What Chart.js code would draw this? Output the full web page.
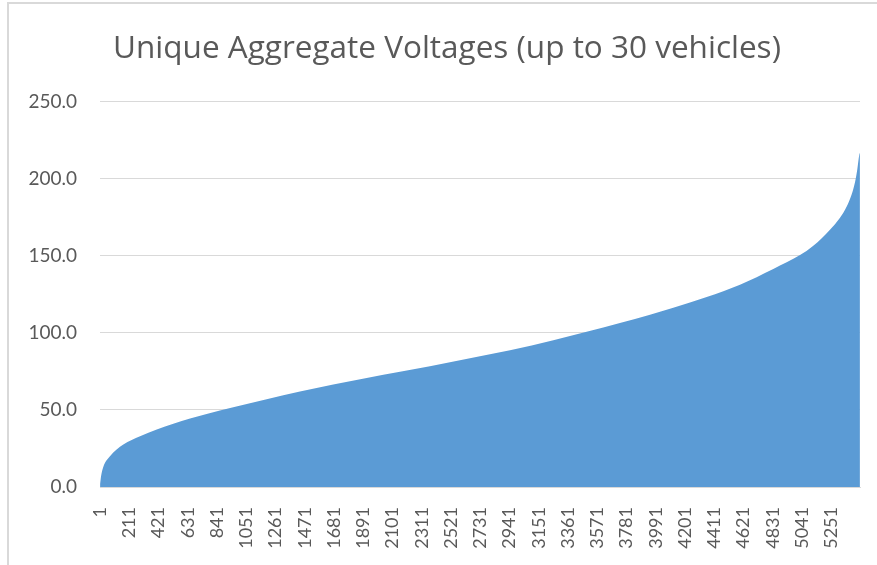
<!DOCTYPE html>
<html>
<head>
<meta charset="utf-8">
<script src="https://cdn.jsdelivr.net/npm/chart.js@4"></script>
<style>
  html, body { margin: 0; padding: 0; background: #fff; }
  #wrap { position: relative; width: 877px; height: 565px; }
  #frame { position: absolute; left: 7px; top: 2px; width: 880px; height: 580px;
           border-left: 2px solid #d9d9d9; border-top: 2px solid #d9d9d9; }
  #chart { position: absolute; left: 0; top: 0; }
</style>
</head>
<body>
<div id="wrap">
  <div id="frame"></div>
  <canvas id="chart" width="877" height="565"></canvas>
</div>
<script>
var chartTitle = 'Unique Aggregate Voltages (up to 30 vehicles)';

var voltRow = [1, 8, 24, 72, 168, 288, 408, 527, 647, 766, 957, 1197, 1436, 1675,
  1915, 2154, 2369, 2728, 2944, 3255, 3494, 3733, 3949, 4116, 4356, 4595, 4834,
  5026, 5119, 5241, 5313, 5361, 5397, 5421, 5437, 5451, 5456];
var voltValue = [2, 7, 13, 20, 27.6, 33, 37.3, 41, 44.4, 47.4, 51.8, 57, 62, 66.6,
  70.8, 74.8, 78.4, 84.8, 88.7, 95.2, 100.7, 106.4, 111.8, 116.3, 123.3, 131.3, 141.5,
  150.5, 156.4, 167, 174.7, 182, 190, 198, 206, 215.5, 217];

var rowCount = 5456;
var xTickLabels = [1, 211, 421, 631, 841, 1051, 1261, 1471, 1681, 1891, 2101, 2311,
  2521, 2731, 2941, 3151, 3361, 3571, 3781, 3991, 4201, 4411, 4621, 4831, 5041, 5251];
var yTickLabels = [0, 50, 100, 150, 200, 250];

var points = [];
for (var i = 0; i < voltRow.length; i++) {
  points.push({ x: voltRow[i], y: voltValue[i] });
}

Chart.defaults.font.family = 'Lato';
Chart.defaults.color = '#595959';

// nudge the title a little right, like the excel one
var titleShift = {
  id: 'titleShift',
  afterLayout: function(chart) {
    if (chart.titleBlock) {
      chart.titleBlock.left += 12;
      chart.titleBlock.right += 12;
    }
  }
};

var ctx = document.getElementById('chart').getContext('2d');
var myChart = new Chart(ctx, {
  type: 'line',
  data: {
    datasets: [{
      data: points,
      fill: 'origin',
      backgroundColor: '#5b9bd5',
      borderColor: '#5b9bd5',
      borderWidth: 0,
      pointRadius: 0,
      cubicInterpolationMode: 'monotone'
    }]
  },
  plugins: [titleShift],
  options: {
    responsive: false,
    animation: false,
    events: [],
    layout: { padding: { left: 10, right: 17, top: 30, bottom: 0 } },
    plugins: {
      legend: { display: false },
      tooltip: { enabled: false },
      title: {
        display: true,
        text: chartTitle,
        color: '#595959',
        font: { family: 'Open Sans', size: 31.5, weight: 'normal' },
        padding: { top: 0, bottom: 34 }
      }
    },
    scales: {
      x: {
        type: 'linear',
        min: 0.5,
        max: rowCount + 0.5,
        grid: { display: false },
        border: { display: true, color: '#d9d9d9' },
        afterBuildTicks: function(scale) {
          scale.ticks = xTickLabels.map(function(v) { return { value: v }; });
        },
        afterFit: function(scale) { scale.height = 78; },
        ticks: {
          autoSkip: false,
          minRotation: 90,
          maxRotation: 90,
          padding: 12,
          font: { size: 18 },
          callback: function(v) { return String(v); }
        }
      },
      y: {
        min: 0,
        max: 250,
        afterBuildTicks: function(scale) {
          scale.ticks = yTickLabels.map(function(v) { return { value: v }; });
        },
        afterFit: function(scale) { scale.width = 90; },
        grid: { color: '#d9d9d9', drawTicks: false },
        border: { display: false },
        ticks: {
          padding: 23,
          font: { size: 19 },
          callback: function(v) { return v.toFixed(1); }
        }
      }
    }
  }
});
</script>
</body>
</html>
